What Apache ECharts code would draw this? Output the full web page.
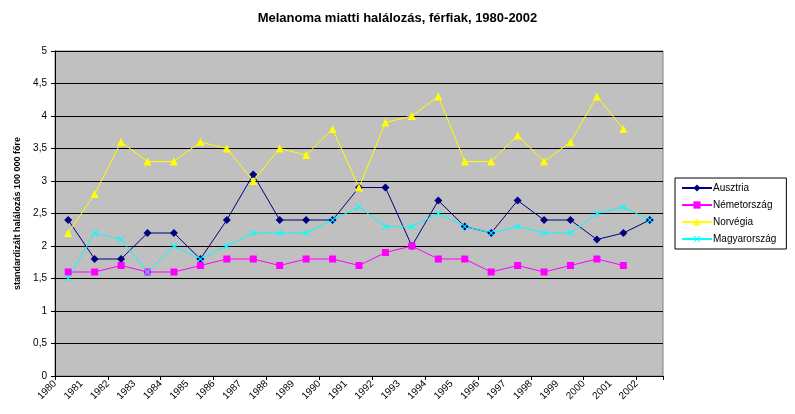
<!DOCTYPE html>
<html>
<head>
<meta charset="utf-8">
<script src="https://cdn.jsdelivr.net/npm/echarts@6/dist/echarts.min.js"></script>
<style>
  html, body { margin: 0; padding: 0; background: #fff; }
  #chart { width: 795px; height: 414px; }
</style>
</head>
<body>
<div id="chart"></div>
<script>
var years = ['1980', '1981', '1982', '1983', '1984', '1985', '1986', '1987', '1988', '1989', '1990', '1991',
  '1992', '1993', '1994', '1995', '1996', '1997', '1998', '1999', '2000', '2001', '2002']
var ausztria = [2.4, 1.8, 1.8, 2.2, 2.2, 1.8, 2.4, 3.1, 2.4, 2.4, 2.4, 2.9, 2.9, 2.0, 2.7, 2.3, 2.2, 2.7, 2.4, 2.4, 2.1, 2.2, 2.4]
var nemetorszag = [1.6, 1.6, 1.7, 1.6, 1.6, 1.7, 1.8, 1.8, 1.7, 1.8, 1.8, 1.7, 1.9, 2.0, 1.8, 1.8, 1.6, 1.7, 1.6, 1.7, 1.8, 1.7, null]
var norvegia = [2.2, 2.8, 3.6, 3.3, 3.3, 3.6, 3.5, 3.0, 3.5, 3.4, 3.8, 2.9, 3.9, 4.0, 4.3, 3.3, 3.3, 3.7, 3.3, 3.6, 4.3, 3.8, null]
var magyarorszag = [1.5, 2.2, 2.1, 1.6, 2.0, 1.8, 2.0, 2.2, 2.2, 2.2, 2.4, 2.6, 2.3, 2.3, 2.5, 2.3, 2.2, 2.3, 2.2, 2.2, 2.5, 2.6, 2.4]

// x alakú jelölő (Excel stílus)
var crossPath = 'path://M0,1L1,0L5,4L9,0L10,1L6,5L10,9L9,10L5,6L1,10L0,9L4,5Z'

var chart = echarts.init(document.getElementById('chart'))

function line (name, data, color, symbol, size) {
  return {
    name: name,
    type: 'line',
    data: data,
    xAxisIndex: 0,
    symbol: symbol,
    symbolSize: size,
    showAllSymbol: true,
    connectNulls: false,
    lineStyle: { color: color, width: 1 },
    itemStyle: { color: color },
    emphasis: { disabled: true },
    animation: false
  }
}

chart.setOption({
  textStyle: { fontFamily: 'Liberation Sans, Arial, sans-serif' },
  title: {
    text: 'Melanoma miatti halálozás, férfiak, 1980-2002',
    left: 'center',
    top: 7,
    textStyle: { fontSize: 13, fontWeight: 'bold', color: '#000' }
  },
  legend: {
    orient: 'vertical',
    left: 675,
    top: 178,
    width: 113,
    itemWidth: 30,
    itemHeight: 9,
    itemGap: 7,
    padding: [5, 10, 5, 6],
    borderColor: '#000',
    borderWidth: 1,
    borderRadius: 0,
    textStyle: { fontSize: 10, color: '#000', padding: [0, 0, 0, -4] },
    data: ['Ausztria', 'Németország', 'Norvégia', 'Magyarország']
  },
  grid: {
    left: 55,
    right: 132,
    top: 51,
    bottom: 38,
    show: true,
    backgroundColor: '#C0C0C0',
    borderColor: '#808080',
    borderWidth: 1
  },
  xAxis: [
    {
      type: 'category',
      data: years,
      boundaryGap: true,
      axisLine: { lineStyle: { color: '#000' } },
      axisTick: { show: true, inside: false, length: 4, lineStyle: { color: '#000' } },
      axisLabel: { show: false },
      splitLine: { show: false }
    },
    {
      // csak a feliratokhoz: a tickekhez igazítva, mint az Excelben
      type: 'category',
      position: 'bottom',
      data: years.concat(['']),
      boundaryGap: false,
      axisLine: { show: false },
      axisTick: { show: false },
      axisLabel: { rotate: 45, fontSize: 10, color: '#000', margin: 6, interval: 0 },
      splitLine: { show: false }
    }
  ],
  yAxis: {
    type: 'value',
    min: 0,
    max: 5,
    interval: 0.5,
    name: 'standardizált halálozás 100 000 főre',
    nameLocation: 'middle',
    nameGap: 30,
    nameTextStyle: { fontSize: 9, fontWeight: 'bold', color: '#000' },
    axisLine: { show: true, lineStyle: { color: '#000' } },
    axisTick: { show: true, inside: false, length: 4, lineStyle: { color: '#000' } },
    axisLabel: {
      fontSize: 10,
      color: '#000',
      margin: 8,
      formatter: function (v) { return String(v).replace('.', ',') }
    },
    splitLine: { lineStyle: { color: '#000', width: 1 } }
  },
  series: [
    line('Ausztria', ausztria, '#000080', 'diamond', 8),
    line('Németország', nemetorszag, '#FF00FF', 'rect', 7),
    line('Norvégia', norvegia, '#FFFF00', 'triangle', 8),
    line('Magyarország', magyarorszag, '#00FFFF', crossPath, 7)
  ]
})
</script>
</body>
</html>
